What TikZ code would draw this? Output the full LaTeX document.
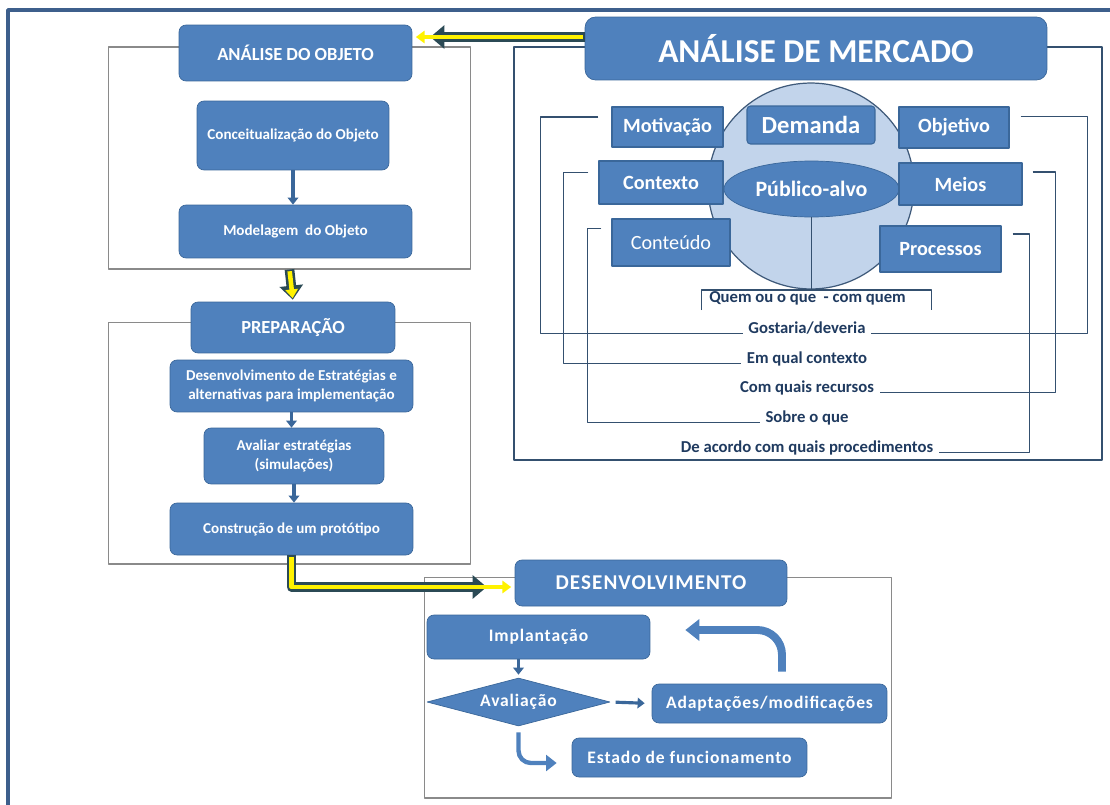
\documentclass[tikz,border=0pt]{standalone}
\usepackage{fontspec}
\setmainfont{Carlito}
\newfontfamily\spacedfont[LetterSpace=5]{Carlito}
\usetikzlibrary{shapes.geometric,arrows.meta,positioning}
\definecolor{boxblue}{HTML}{4F81BD}
\definecolor{boxline}{HTML}{3A679A}
\definecolor{circfill}{HTML}{C2D4EB}
\definecolor{circline}{HTML}{3F5A7A}
\definecolor{lineslate}{HTML}{34506F}
\definecolor{labelnavy}{HTML}{1F3A5F}
\definecolor{arrowdark}{HTML}{2B4A55}
\definecolor{outerblue}{HTML}{3D5F8C}
\definecolor{framegray}{HTML}{8A8A8A}
\begin{document}
\begin{tikzpicture}[x=0.02cm, y=-0.02cm, line join=round,
  flow/.style={rectangle, rounded corners=4pt, draw=boxline, fill=boxblue, text=white, align=center, inner sep=1pt, font=\fontsize{8.6}{10.4}\selectfont\bfseries},
  headbox/.style={flow, font=\fontsize{10.5}{12}\selectfont\bfseries},
  devbox/.style={flow, font=\spacedfont\fontsize{10}{12}\selectfont\bfseries},
  tagbox/.style={rectangle, draw=boxline, line width=0.6pt, fill=boxblue, text=white, inner sep=1pt, font=\fontsize{11.5}{13}\selectfont\bfseries},
  frame/.style={draw=framegray, line width=0.6pt, inner sep=0pt},
  lbl/.style={text=labelnavy, inner xsep=3pt, inner ysep=1pt, font=\fontsize{9.5}{11}\selectfont\bfseries},
  brk/.style={draw=lineslate, line width=0.8pt},
  yarrow/.style={draw=arrowdark, line width=5.5pt, -{Triangle[length=8pt,width=13pt]},
    postaction={draw=yellow, line width=2.6pt, -{Triangle[length=5pt,width=7pt]}, shorten >=2pt, shorten <=1pt}},
  sarrow/.style={draw=boxline, line width=1.8pt, -{Triangle[length=4pt,width=6pt]}},
  carrow/.style={draw=boxblue, line width=2.5pt, rounded corners=7pt, -{Triangle[length=6pt,width=9pt]}},
  barrow/.style={draw=boxblue, line width=4.5pt, rounded corners=14pt, -{Triangle[length=8pt,width=12pt]}}]
\useasboundingbox (0,0) rectangle (1110,805);
% moldura externa
\draw[outerblue, line width=2.2pt] (1110,10) -| (8,805);
% quadros
\node[frame, minimum width=7.26cm, minimum height=4.44cm] (objfr) at (289.5,158) {};
\node[frame, minimum width=7.26cm, minimum height=4.84cm] (prepfr) at (289.5,443) {};
\node[frame, minimum width=9.36cm, minimum height=4.42cm] (desfr) at (658,687.5) {};
\node[frame, draw=lineslate, line width=0.9pt, minimum width=11.76cm, minimum height=8.26cm] (mercfr) at (808,253.5) {};
% analise do objeto
\node[headbox, minimum width=4.66cm, minimum height=1.12cm] (obj) at (295.5,53) {ANÁLISE DO OBJETO};
\node[flow, minimum width=3.84cm, minimum height=1.38cm] (conc) at (293,135.5) {Conceitualização do Objeto};
\node[flow, minimum width=4.66cm, minimum height=1.06cm] (mod) at (295.5,231.5) {Modelagem~ do Objeto};
\draw[sarrow] (conc.south) -- (conc.south |- mod.north);
% preparacao
\node[headbox, minimum width=4.08cm, minimum height=1.02cm] (prep) at (293,327.5) {PREPARAÇÃO};
\node[flow, minimum width=4.86cm, minimum height=1.04cm] (dev) at (291.5,386) {Desenvolvimento de Estratégias e\\alternativas para implementação};
\node[flow, minimum width=3.6cm, minimum height=1.12cm] (aval) at (294,456) {Avaliar estratégias\\(simulações)};
\node[flow, minimum width=4.86cm, minimum height=1.04cm] (prot) at (291.5,529) {Construção de um protótipo};
\draw[sarrow] (dev.south) -- (dev.south |- aval.north);
\draw[sarrow] (aval.south) -- (aval.south |- prot.north);
% desenvolvimento
\node[devbox, font=\spacedfont\fontsize{12}{14}\selectfont\bfseries, minimum width=5.44cm, minimum height=0.92cm] (desenv) at (651,583) {DESENVOLVIMENTO};
\node[devbox, minimum width=4.46cm, minimum height=0.88cm] (impl) at (538.5,637) {Implantação};
\node[diamond, aspect=3.8, draw=boxline, fill=boxblue, text=white, inner sep=0pt, minimum width=3.66cm, minimum height=0.96cm, font=\spacedfont\fontsize{10}{12}\selectfont\bfseries] (avalia) at (518.5,702) {Avaliação};
\node[devbox, minimum width=4.7cm, minimum height=0.78cm] (adapt) at (769.5,703.5) {Adaptações/modificações};
\node[devbox, minimum width=4.7cm, minimum height=0.78cm] (estado) at (689.5,757.5) {Estado de funcionamento};
\draw[sarrow] (avalia.north |- impl.south) -- ([yshift=0.06cm]avalia.north);
\draw[sarrow, shorten <=3pt, shorten >=4pt] (avalia.east) -- (adapt.west);
\draw[carrow, shorten <=0.12cm, shorten >=0.3cm] (avalia.south) |- ([yshift=-0.11cm]estado.west);
\draw[barrow, shorten <=0.24cm, shorten >=0.7cm] ([xshift=0.25cm]adapt.north) |- ([yshift=0.14cm]impl.east);
% analise de mercado
\node[circle, draw=circline, fill=circfill, line width=0.7pt, minimum size=4.12cm] (circ) at (811,186) {};
\node[flow, rounded corners=6pt, minimum width=9.24cm, minimum height=1.26cm, font=\fontsize{19}{22}\selectfont\bfseries] (merc) at (816,48.5) {ANÁLISE DE MERCADO};
\node[tagbox, minimum width=2.22cm, minimum height=0.8cm] (motiv) at (667.5,127) {Motivação};
\node[tagbox, rounded corners=2pt, minimum width=2.56cm, minimum height=0.76cm, font=\fontsize{14}{16}\selectfont\bfseries] (dem) at (811,125) {Demanda};
\node[tagbox, minimum width=2.2cm, minimum height=0.82cm] (objet) at (954,127.5) {Objetivo};
\node[tagbox, minimum width=2.48cm, minimum height=0.86cm] (cont) at (661,182.5) {Contexto};
\node[ellipse, draw=boxline, fill=boxblue, text=white, inner sep=0pt, minimum width=3.5cm, minimum height=1.12cm, font=\fontsize{12.5}{14}\selectfont\bfseries] (pub) at (811.5,189) {Público-alvo};
\node[tagbox, minimum width=2.46cm, minimum height=0.84cm] (meios) at (960.5,184) {Meios};
\node[tagbox, minimum width=2.36cm, minimum height=0.94cm, font=\fontsize{11.5}{13}\selectfont] (conteudo) at (671,242.5) {Conteúdo};
\node[tagbox, minimum width=2.42cm, minimum height=0.92cm] (proc) at (940.5,249) {Processos};
% perguntas
\node[lbl] (quem) at (807.5,298) {Quem ou o que~ - com quem};
\node[lbl] (gost) at (807,328) {Gostaria/deveria};
\node[lbl] (emq) at (807,359) {Em qual contexto};
\node[lbl] (comq) at (807,388) {Com quais recursos};
\node[lbl] (sobre) at (807,418) {Sobre o que};
\node[lbl] (deac) at (807,448) {De acordo com quais procedimentos};
\draw[brk] (pub.south) -- ++(0,73);
\draw[brk] ([shift={(-2,12)}]quem.west) |- ([shift={(20,-8)}]quem.east) -- ++(0,20);
\draw[brk] ([shift={(-13,-10)}]motiv.west) -- ++(-58,0) |- (gost.base west);
\draw[brk] ([shift={(11,-11)}]objet.east) -- ++(67,0) |- (gost.base east);
\draw[brk] ([shift={(-10,-10)}]cont.west) -- ++(-25,0) |- (emq.base west);
\draw[brk] ([shift={(10,-12)}]meios.east) -- ++(23,0) |- (comq.base east);
\draw[brk] ([shift={(-10,-14)}]conteudo.west) -- ++(-14,0) |- (sobre.base west);
\draw[brk] ([shift={(11,-15)}]proc.east) -- ++(17,0) |- (deac.base east);
% setas amarelas
\draw[yarrow, shorten >=0.36cm] ([yshift=0.23cm]merc.west) -- ([yshift=0.23cm]merc.west -| obj.east);
\draw[yarrow, shorten >=0.04cm] (objfr.south) -- (prep.north);
\draw[yarrow, shorten >=0.56cm] (prot.south) |- ([yshift=-0.08cm]desenv.west);
\end{tikzpicture}
\end{document}
